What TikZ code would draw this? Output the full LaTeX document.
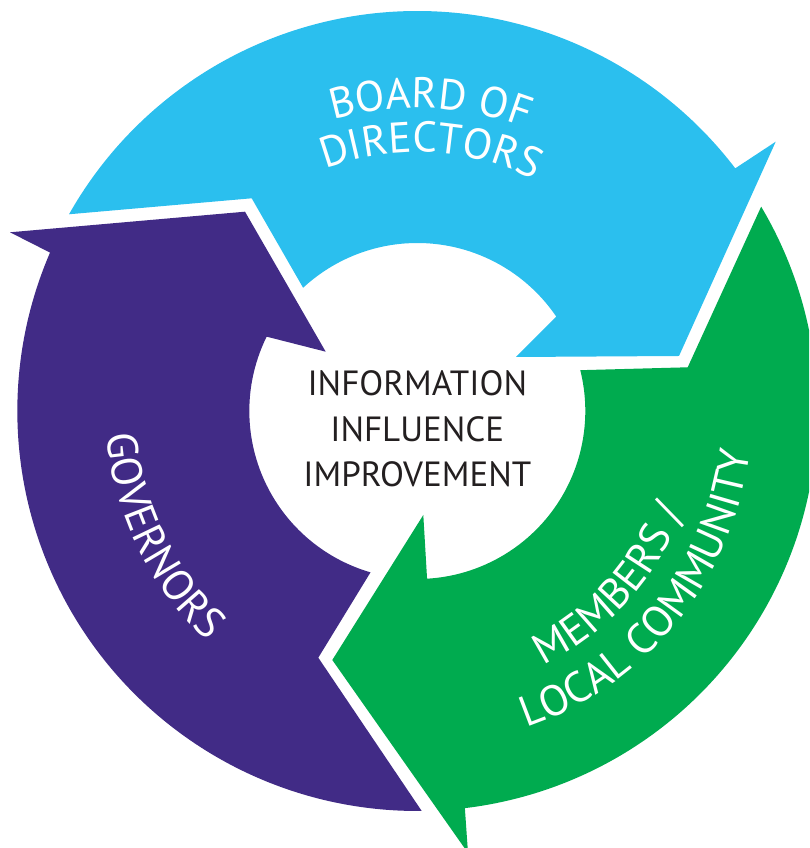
\documentclass[tikz,border=0pt]{standalone}
\usepackage{fontspec}
\setmainfont{PT Sans}
\usetikzlibrary{calc,decorations.text}
\definecolor{bdblue}{HTML}{2BBFEE}
\definecolor{govpurple}{HTML}{412B86}
\definecolor{memgreen}{HTML}{00AB4F}
\definecolor{darktext}{HTML}{231F20}
\newcommand\labelfont{\fontsize{43}{50}\selectfont}
\tikzset{
  centertext/.style={font=\fontsize{35}{40}\selectfont, text=darktext, anchor=base, inner sep=0pt},
  curvedlabel/.style={decorate, decoration={text along path, text={|\labelfont|#1}, text align=center, text color=white}}
}
\begin{document}
\begin{tikzpicture}[x=1pt,y=1pt]
\useasboundingbox (0,0) rectangle (809,848);
\clip (0,0) rectangle (809,848);
\coordinate (C) at (417.3,437);
% blue arrow
\fill[bdblue] ($(C)+(150.54:400)$) arc[start angle=150.54, end angle=37.35, radius=400]
  -- (775.7,706.3) -- (679,492) -- (516,491)
  -- ($(C)+(34.21:168)$) arc[start angle=34.21, end angle=132.82, radius=168]
  -- (251.7,649.7) -- cycle;
% purple arrow
\fill[govpurple] ($(C)+(270.63:400)$) arc[start angle=270.63, end angle=156.67, radius=400]
  -- (10,615.7) -- (245,636.3) -- (325.7,496.3)
  -- ($(C)+(153.74:168)$) arc[start angle=153.74, end angle=253.83, radius=168]
  -- (318.3,190.3) -- cycle;
% green arrow
\fill[memgreen] ($(C)+(30.72:400)$) arc[start angle=30.72, end angle=-83.17, radius=400]
  -- (468,-5) -- (332.3,188) -- (423.3,333)
  -- ($(C)+(-86.67:168)$) arc[start angle=-86.67, end angle=14.06, radius=168]
  -- (687.7,480.7) -- cycle;
% centre text
\node[centertext] (info1) at (417.3,452) {INFORMATION};
\node[centertext] (info2) at (417.3,406) {INFLUENCE};
\node[centertext] (info3) at (417.3,361) {IMPROVEMENT};
% curved labels
\path[curvedlabel={BOARD OF}] ($(C)+(127.5:303)$) arc[start angle=127.5, end angle=47.5, radius=303];
\path[curvedlabel={DIRECTORS}] ($(C)+(127:259)$) arc[start angle=127, end angle=47, radius=259];
\path[curvedlabel={GOVERNORS}] ($(C)+(166:311)$) arc[start angle=166, end angle=246, radius=311];
\path[curvedlabel={MEMBERS /}] ($(C)+(-82:284)$) arc[start angle=-82, end angle=-2, radius=284];
\path[curvedlabel={LOCAL COMMUNITY}] ($(C)+(-79:335)$) arc[start angle=-79, end angle=1, radius=335];
\end{tikzpicture}
\end{document}
